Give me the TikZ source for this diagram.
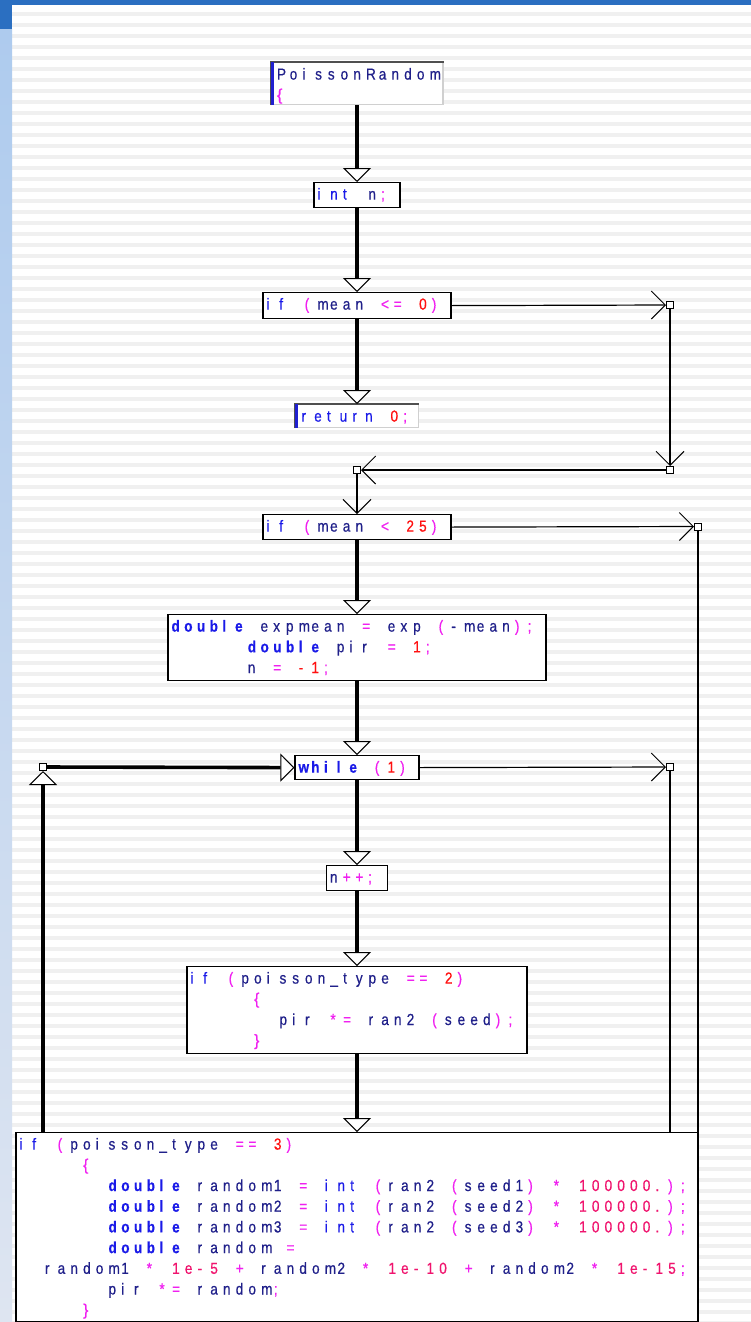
\documentclass[tikz,border=0pt]{standalone}
\usepackage{fontspec}
\setmainfont{Liberation Sans}[FakeBold=0.6]
\usepackage{graphicx}
\usetikzlibrary{arrows.meta}

% Fixed character cells for the code text
\newlength\cellw
\setlength\cellw{12.72pt}
\ExplSyntaxOn
\NewDocumentCommand\cells{m}
  {\str_map_inline:nn {#1} {\makebox[\cellw][l]{\scalebox{0.85}[1]{##1}}}}
\ExplSyntaxOff
\newcommand\ckw[1]{\textcolor{kwColour}{\cells{#1}}}
\newcommand\ckwb[1]{\textcolor{kwColour}{\bfseries\cells{#1}}}
\newcommand\cid[1]{\textcolor{idColour}{\cells{#1}}}
\newcommand\cop[1]{\textcolor{opColour}{\cells{#1}}}
\newcommand\cnum[1]{\textcolor{numColour}{\cells{#1}}}
\newcommand\cflt[1]{\textcolor{fltColour}{\cells{#1}}}
\newcommand\clb{\textcolor{opColour}{\makebox[\cellw][l]{\{}}}
\newcommand\crb{\textcolor{opColour}{\makebox[\cellw][l]{\}}}}
\newcommand\cind[1]{\hspace*{#1\cellw}}
\newcommand\codebox[3][3.5pt]{\hbox to #2pt{\hspace*{#1}\vtop{\baselineskip=20.7pt\lineskiplimit=-100pt\halign{##\hfil\cr#3\crcr}}\hss}}

\begin{document}
\begin{tikzpicture}[x=1pt, y=-1pt,
    font=\fontsize{16}{20.7}\selectfont,
    code/.style={draw=black, line width=1.2pt, fill=white, inner sep=0pt, text height=17pt, anchor=north},
    entry/.style={code, draw=rimLight},
    flow/.style={line width=3.6pt, -{Triangle[fill=white, length=14pt, width=28pt, line width=1pt]}},
    jump/.style={line width=1.2pt, -{Straight Barb[length=14pt, width=28pt, line width=1pt]}},
    rail/.style={line width=1.2pt},
    jn/.style={draw=black, fill=white, line width=1pt, minimum size=7pt, inner sep=0pt}]

    % Define colours
    \definecolor{kwColour}{HTML}{1A1AE8}
    \definecolor{idColour}{HTML}{20208A}
    \definecolor{opColour}{HTML}{F020F0}
    \definecolor{numColour}{HTML}{FF1010}
    \definecolor{fltColour}{HTML}{F0146E}
    \definecolor{stripeColour}{HTML}{F0F0F0}
    \definecolor{barColour}{HTML}{2B6FC1}
    \definecolor{sideTop}{HTML}{AECBEE}
    \definecolor{sideBottom}{HTML}{DEE5F1}
    \definecolor{rimLight}{HTML}{D0D0D0}
    \definecolor{rimDark}{HTML}{505050}
    \definecolor{rimBlue}{HTML}{2020D0}

    % Draw background
    \useasboundingbox (0,0) rectangle (751,1322);
    \fill[white] (0,0) rectangle (751,1322);
    \foreach \k in {0,...,119}
        \fill[stripeColour] (12,{11.7+11*\k}) rectangle (751,{16.2+11*\k});
    \fill[barColour] (0,0) rectangle (751,5);
    \fill[barColour] (0,5) rectangle (12,30);
    \shade[top color=sideTop, bottom color=sideBottom] (0,30) rectangle (12,1322);

    % Draw statement boxes
    \node[entry, text depth=25pt] (start) at (357,62)
        {\codebox[6pt]{172}{\cid{PoissonRandom}\cr\clb}};
    \node[code, text depth=8pt] (intn) at (357,182)
        {\codebox{86}{\ckw{int }\cid{n}\cop{;}}};
    \node[code, text depth=9pt] (if1) at (357,292)
        {\codebox{188}{\ckw{if }\cop{(}\cid{mean }\cop{<= }\cnum{0}\cop{)}}};
    \node[entry, text depth=6pt] (ret) at (357,404)
        {\codebox[6pt]{123}{\ckw{return }\cnum{0}\cop{;}}};
    \node[code, text depth=8pt] (if2) at (357,514)
        {\codebox{188}{\ckw{if }\cop{(}\cid{mean }\cop{< }\cnum{25}\cop{)}}};
    \node[code, text depth=49pt] (init) at (357,614)
        {\codebox{378}{\ckwb{double }\cid{expmean }\cop{= }\cid{exp }\cop{(}\cid{-mean}\cop{);}\cr
        \cind{6}\ckwb{double }\cid{pir }\cop{= }\cnum{1}\cop{;}\cr
        \cind{6}\cid{n }\cop{= }\cnum{-1}\cop{;}}};
    \node[code, text depth=7pt] (loop) at (357,755)
        {\codebox{124}{\ckwb{while }\cop{(}\cnum{1}\cop{)}}};
    \node[code, text depth=8pt] (inc) at (357,865)
        {\codebox{61}{\cid{n}\cop{++;}}};
    \node[code, text depth=70pt] (if3) at (357,966)
        {\codebox{340}{\ckw{if }\cop{(}\cid{poisson_type }\cop{== }\cnum{2}\cop{)}\cr
        \cind{5}\clb\cr
        \cind{7}\cid{pir }\cop{*= }\cid{ran2 }\cop{(}\cid{seed}\cop{);}\cr
        \cind{5}\crb}};
    \node[code, text depth=172pt] (if4) at (357,1132)
        {\codebox{682}{\ckw{if }\cop{(}\cid{poisson_type }\cop{== }\cnum{3}\cop{)}\cr
        \cind{5}\clb\cr
        \cind{7}\ckwb{double }\cid{random1 }\cop{= }\ckw{int }\cop{(}\cid{ran2 }\cop{(}\cid{seed1}\cop{) * }\cflt{100000.}\cop{);}\cr
        \cind{7}\ckwb{double }\cid{random2 }\cop{= }\ckw{int }\cop{(}\cid{ran2 }\cop{(}\cid{seed2}\cop{) * }\cflt{100000.}\cop{);}\cr
        \cind{7}\ckwb{double }\cid{random3 }\cop{= }\ckw{int }\cop{(}\cid{ran2 }\cop{(}\cid{seed3}\cop{) * }\cflt{100000.}\cop{);}\cr
        \cind{7}\ckwb{double }\cid{random }\cop{=}\cr
        \cind{2}\cid{random1 }\cop{* }\cflt{1e-5 }\cop{+ }\cid{random2 }\cop{* }\cflt{1e-10 }\cop{+ }\cid{random2 }\cop{* }\cflt{1e-15}\cop{;}\cr
        \cind{7}\cid{pir }\cop{*= }\cid{random}\cop{;}\cr
        \cind{5}\crb}};

    % Rims of the entry boxes
    \foreach \b in {start,ret} {
        \draw[rimDark, line width=1.5pt] (\b.south west) -- (\b.north west) -- (\b.north east);
        \draw[rimBlue, line width=3pt] ([xshift=2pt]\b.south west) -- ([xshift=2pt]\b.north west);
    }

    % Draw junctions
    \node[jn] (j1) at (670,305) {};
    \node[jn] (j2) at (670,470) {};
    \node[jn] (j3) at (357,470) {};
    \node[jn] (j4) at (698,526.5) {};
    \node[jn] (j5) at (670,767) {};
    \node[jn] (j6) at (43,767) {};

    % Main flow
    \draw[flow] (start.south) -- (intn.north);
    \draw[flow] (intn.south) -- (if1.north);
    \draw[flow] (if1.south) -- (ret.north);
    \draw[flow] (if2.south) -- (init.north);
    \draw[flow] (init.south) -- (loop.north);
    \draw[flow] (loop.south) -- (inc.north);
    \draw[flow] (inc.south) -- (if3.north);
    \draw[flow] (if3.south) -- (if4.north);

    % Branches and loop back
    \draw[jump] (if1.east) -- (j1);
    \draw[jump] (j1) -- (j2);
    \draw[jump] (j2) -- (j3);
    \draw[jump] (j3) -- (if2.north);
    \draw[jump] (if2.east) -- (j4);
    \draw[rail] (j4) -- (j4 |- if4.north);
    \draw[jump] (loop.east) -- (j5);
    \draw[rail] (j5) -- (j5 |- if4.north);
    \draw[flow] (j6 |- if4.north) -- (j6);
    \draw[flow] (j6) -- (loop.west);

\end{tikzpicture}
\end{document}
